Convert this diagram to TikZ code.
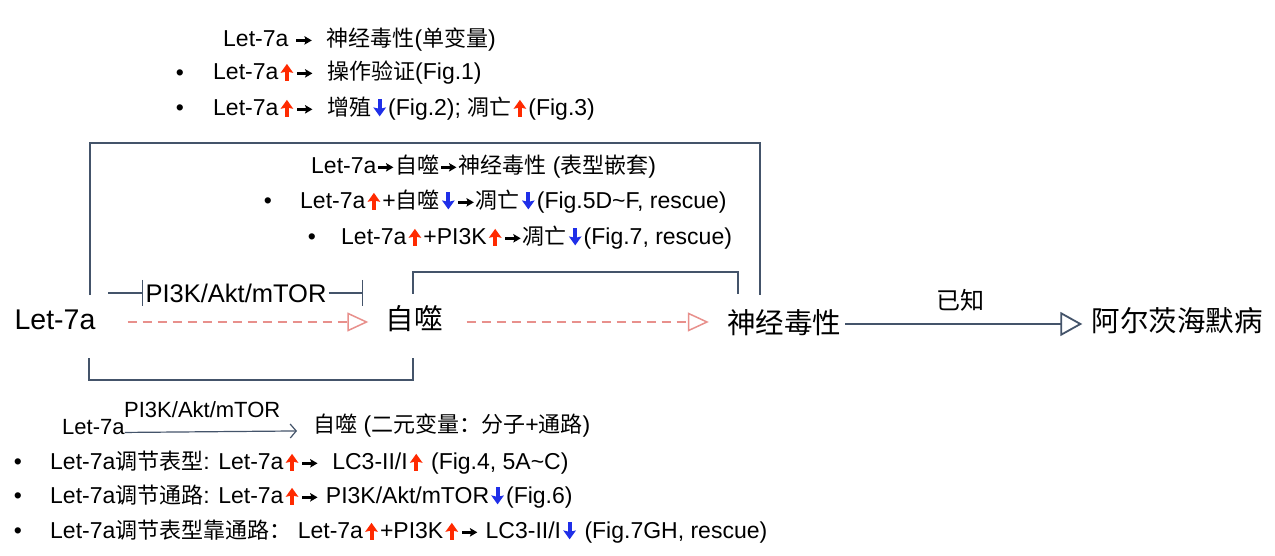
\documentclass[tikz,border=0pt]{standalone}
\usepackage{fontspec}
\setmainfont{Liberation Sans}
\newfontfamily\cjk{Noto Sans CJK SC}
\usetikzlibrary{arrows.meta,calc}
\definecolor{lineblue}{HTML}{44546A}
\definecolor{dashpink}{HTML}{E8908C}
\definecolor{upred}{HTML}{FF2A00}
\definecolor{downblue}{HTML}{1F2FE8}
\newcommand\zh[1]{{\cjk\fontsize{22}{26}\selectfont #1}}
\newcommand\upa{\tikz[baseline=0pt,x=1pt,y=1pt]{\path (-8.5,0) (8.5,0);
  \fill[upred] (-2,-1) rectangle (2,9);
  \fill[upred] (-6.4,7) -- (0,16) -- (6.4,7) -- (0,8.4) -- cycle;}}
\newcommand\dna{\tikz[baseline=0pt,x=1pt,y=1pt]{\path (-8.5,0) (8.5,0);
  \fill[downblue] (-2,6) rectangle (2,16.5);
  \fill[downblue] (-6.4,8.5) -- (0,-0.5) -- (6.4,8.5) -- (0,7) -- cycle;}}
\newcommand\ra{\tikz[baseline=0pt,x=1pt,y=1pt]{\path (-1.5,0) (17.5,0);
  \fill[black] (0,5.3) rectangle (10,7.8);
  \fill[black] (8,2.2) -- (15.5,6.55) -- (8,10.9) -- (9.5,6.55) -- cycle;}}
\newcommand\smallsz{\fontsize{23}{27}\selectfont}
\newcommand\midsz{\fontsize{24}{28}\selectfont}
\newcommand\bigsz{\fontsize{28.5}{32}\selectfont}
\begin{document}
\begin{tikzpicture}[x=1pt,y=-1pt,
  txt/.style={inner sep=0pt, anchor=west, font=\smallsz},
  bul/.style={inner sep=0pt, font=\smallsz},
  lbl/.style={inner sep=0pt, font=\bigsz, text height=21pt, text depth=5pt},
  brk/.style={draw=lineblue, line width=1.8pt},
  dasharrow/.style={draw=dashpink, line width=1.5pt, dash pattern=on 9pt off 6pt,
    -{Triangle[open,length=21pt,width=19pt,line width=1.5pt]}},
  solidarrow/.style={draw=lineblue, line width=1.8pt,
    -{Triangle[open,length=22pt,width=24pt,line width=1.8pt]}},
  inhib/.style={draw=lineblue, line width=1.5pt, -{Bar[width=26pt,line width=1.5pt]}},
  thinarrow/.style={draw=lineblue, line width=1.2pt,
    -{Straight Barb[length=6pt,width=14pt,line width=1.2pt]}}
]
\useasboundingbox[fill=white] (0,0) rectangle (1275,556);

% top text
\node[txt] (t1) at (223,40) {Let-7a \ra\ \ \zh{神经毒性}(\zh{单变量})};
\node[bul] (t2b) at (180,75) {•};
\node[txt] (t2) at (213,73) {Let-7a\upa\ra\ \ \zh{操作验证}(Fig.1)};
\node[bul] (t3b) at (180,110) {•};
\node[txt] (t3) at (213,109) {Let-7a\upa\ra\ \ \zh{增殖}\dna(Fig.2); \zh{凋亡}\upa(Fig.3)};

% middle text
\node[txt] (m1) at (311,167) {Let-7a\ra\zh{自噬}\ra\zh{神经毒性} (\zh{表型嵌套})};
\node[bul] (m2b) at (268,203) {•};
\node[txt] (m2) at (300,202) {Let-7a\upa+\zh{自噬}\dna\ra\zh{凋亡}\dna(Fig.5D\textasciitilde F, rescue)};
\node[bul] (m3b) at (312,239) {•};
\node[txt] (m3) at (341,238) {Let-7a\upa+PI3K\upa\ra\zh{凋亡}\dna(Fig.7, rescue)};

% main chain
\node[lbl] (let) at (55,322) {Let-7a};
\node[lbl] (zs) at (414,322) {\zh{\bigsz 自噬}};
\node[lbl] (nt) at (784,325) {\zh{\bigsz 神经毒性}};
\node[lbl] (ad) at (1177,323) {\zh{\bigsz 阿尔茨海默病}};
\node[inner sep=0pt] (yz) at (960,300) {\zh{\midsz 已知}};

\draw[dasharrow] ([xshift=32pt]let.east) -- ([xshift=-17pt]let.east -| zs.west);
\draw[dasharrow] ([xshift=24pt]zs.east) -- ([xshift=-18pt]zs.east -| nt.west);
\draw[solidarrow] ([xshift=4pt,yshift=1pt]nt.east) -- ([xshift=-9pt,yshift=1pt]nt.east -| ad.west);

% inhibition
\node[inner sep=2pt, font=\fontsize{25.5}{29}\selectfont] (pi) at (236,293) {PI3K/Akt/mTOR};
\coordinate (inhL) at (108,293);
\coordinate (inhR) at (363,293);
\draw[inhib] (inhL) -- (pi.west);
\draw[inhib] (pi.east) -- (inhR);

% brackets
\coordinate (bigL) at (90,295);
\coordinate (bigR) at (760,295);
\coordinate (bigT) at (400,143);
\draw[brk] (bigL) |- (bigT) -| (bigR);
\coordinate (inL) at (413,294);
\coordinate (inR) at (738,294);
\coordinate (inT) at (600,272);
\draw[brk] (inL) |- (inT) -| (inR);
\coordinate (loL) at (89,358);
\coordinate (loR) at (413,358);
\coordinate (loB) at (250,380);
\draw[brk] (loL) |- (loB) -| (loR);

% bottom
\node[txt, font=\fontsize{22}{26}\selectfont] (bl) at (62,427) {Let-7a};
\node[txt, font=\fontsize{22}{26}\selectfont] (bp) at (124,410) {PI3K/Akt/mTOR};
\node[txt] (bz) at (313,426) {\zh{自噬} (\zh{二元变量：分子}+\zh{通路})};
\draw[thinarrow] ([yshift=2pt]bl.base east) -- ([xshift=-16pt,yshift=2pt]bz.base west);

\node[bul] (b1b) at (18,464) {•};
\node[txt] (b1) at (50,463) {Let-7a\zh{调节表型}: Let-7a\upa\ra\ \ LC3-II/I\upa\ (Fig.4, 5A\textasciitilde C)};
\node[bul] (b2b) at (18,498) {•};
\node[txt] (b2) at (50,497) {Let-7a\zh{调节通路}: Let-7a\upa\ra\ PI3K/Akt/mTOR\dna(Fig.6)};
\node[bul] (b3b) at (18,533) {•};
\node[txt] (b3) at (50,532) {Let-7a\zh{调节表型靠通路：} Let-7a\upa+PI3K\upa\ra\ LC3-II/I\dna\ (Fig.7GH, rescue)};
\end{tikzpicture}
\end{document}
